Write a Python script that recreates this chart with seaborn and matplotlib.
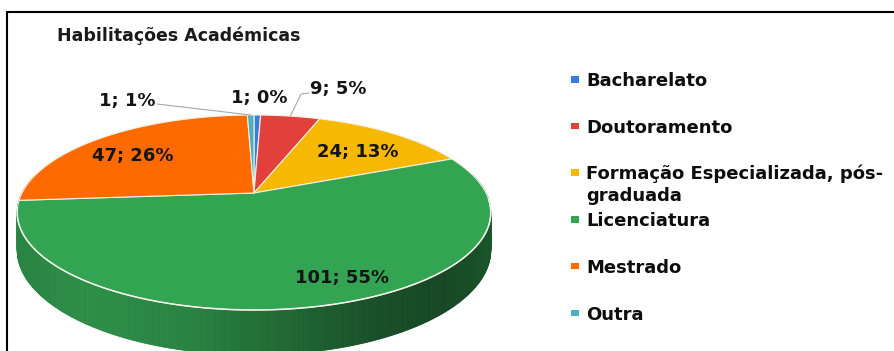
import numpy as np
import matplotlib
matplotlib.use("Agg")
import matplotlib.pyplot as plt
import seaborn as sns
from matplotlib.patches import Polygon, Rectangle
import matplotlib.colors as mcolors

# ---------------- data ----------------
title = "Habilitações Académicas"
categories = ["Bacharelato", "Doutoramento", "Formação Especializada, pós-\ngraduada",
              "Licenciatura", "Mestrado", "Outra"]
counts = [1, 9, 24, 101, 47, 1]
percents = [0, 5, 13, 55, 26, 1]
colors = ["#3B7DDD", "#E2403B", "#F6B800", "#33A552", "#FF6A00", "#4BB0C2"]

# ---------------- style ----------------
sns.set_theme(style="white")
plt.rcParams['font.family'] = ['DejaVu Sans']

W, H = 894, 351
fig = plt.figure(figsize=(W / 100, H / 100), dpi=100)
ax = fig.add_axes([0, 0, 1, 1])
ax.set_xlim(0, W)
ax.set_ylim(H, 0)
ax.axis('off')

# perspective pie geometry (pixels)
cx, cy = 254.0, 193.0
A, B, D = 232.0, 93.6, 5.0
HS = 36.0


def proj(theta, h=0.0):
    u = np.sin(theta)
    z = -np.cos(theta)
    f = D / (D - z)
    return cx + A * u * f, cy + (B * z + HS * h) * f


total = sum(counts)
fracs = np.array(counts, dtype=float) / total
edges = np.concatenate([[0.0], np.cumsum(fracs)]) * 2 * np.pi

# ---------------- side wall ----------------
nseg = 720
ts = np.linspace(0, 2 * np.pi, nseg + 1)
xmin_p, xmax_p = cx - A * 1.02, cx + A * 1.02
segs = []
for i in range(nseg):
    t0, t1 = ts[i], ts[i + 1]
    tm = 0.5 * (t0 + t1)
    z = -np.cos(tm)
    if z < -0.2:
        continue
    k = np.searchsorted(edges, tm) - 1
    k = min(max(k, 0), len(counts) - 1)
    x0, y0 = proj(t0)
    x1, y1 = proj(t1)
    x2, y2 = proj(t1, 1)
    x3, y3 = proj(t0, 1)
    xf = ((x0 + x1) / 2 - xmin_p) / (xmax_p - xmin_p)
    fac = np.interp(xf, [0, 0.15, 0.35, 0.55, 0.75, 0.9, 1.0],
                    [0.80, 0.86, 0.80, 0.64, 0.48, 0.42, 0.52])
    base = np.array(mcolors.to_rgb(colors[k]))
    c = np.clip(base * fac, 0, 1)
    segs.append((z, [(x0, y0), (x1, y1), (x2, y2), (x3, y3)], c))
segs.sort(key=lambda s: s[0])
for z, pts, c in segs:
    ax.add_patch(Polygon(pts, closed=True, facecolor=c, edgecolor=c, lw=0.6))

# ---------------- top faces ----------------
for k in range(len(counts)):
    th = np.linspace(edges[k], edges[k + 1], max(3, int(counts[k] * 4)))
    pts = [(cx, cy)] + [proj(t) for t in th]
    ax.add_patch(Polygon(pts, closed=True, facecolor=colors[k],
                         edgecolor="#f3efe2", lw=0.8, joinstyle='round'))

# rim highlight on front edge
th = np.linspace(np.pi * 0.52, np.pi * 1.45, 200)
rim = np.array([proj(t) for t in th])
ax.plot(rim[:, 0], rim[:, 1], color="#f4f4ec", lw=1.1, alpha=0.95)

# ---------------- data labels ----------------
label_layout = [(259.5, 103), (338, 94), (358, 157), (342, 283), (133, 161), (127, 106)]
for k in range(len(counts)):
    lx, ly = label_layout[k]
    ax.text(lx, ly, f"{counts[k]}; {percents[k]}%", ha='center', va='baseline',
            fontsize=13, fontweight='bold', color="#141414")

# leader lines to small slices
mid = 0.5 * (edges[:-1] + edges[1:])
ox, oy = proj(mid[5])
ax.plot([157, ox], [104, oy], color="#a8a8a8", lw=0.8)
dx, dy = proj(mid[1])
ax.plot([309, 301, dx], [93, 94, dy], color="#a8a8a8", lw=0.8)

# ---------------- legend ----------------
leg_y0, leg_step, line_gap = 86, 46.7, 21.5
for k, cat in enumerate(categories):
    by = leg_y0 + k * leg_step
    ax.add_patch(Rectangle((571, by - 10), 7.5, 6.5, facecolor=colors[k], edgecolor='none'))
    for j, line in enumerate(cat.split("\n")):
        ax.text(586, by + j * line_gap, line, ha='left', va='baseline', fontsize=13,
                fontweight='bold', color="#0d0d0d")

# ---------------- title & frame ----------------
ax.text(57, 41, title, ha='left', va='baseline', fontsize=12.5, fontweight='bold',
        color="#1a1a1a")
ax.plot([7, 7, W + 5], [H + 5, 12, 12], color='black', lw=1.5, solid_joinstyle='miter')

fig.savefig("out.png", dpi=100)
